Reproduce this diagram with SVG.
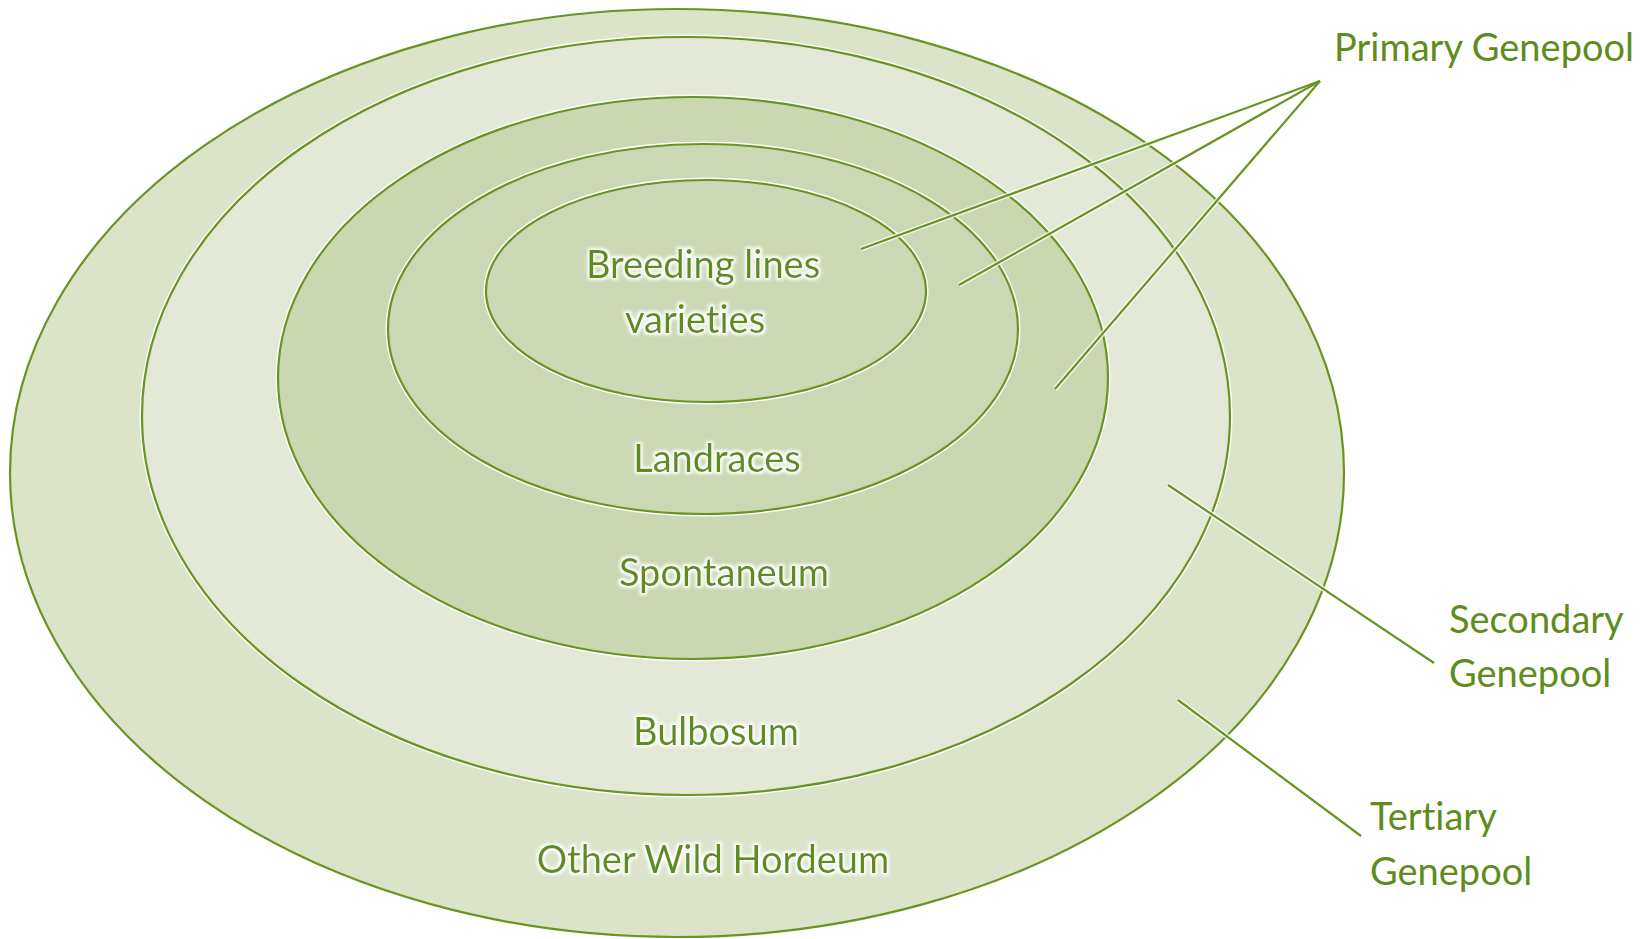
<svg xmlns="http://www.w3.org/2000/svg" width="1646" height="939" viewBox="0 0 1646 939">
<defs>
<style>
.halo{fill:none;stroke:#ffffff;stroke-width:5;}
.ring{stroke:#6a9421;stroke-width:2.2;}
.lbl{font-family:Lato,"Open Sans","Liberation Sans",sans-serif;font-size:38px;fill:#5f8c1c;font-variant-ligatures:none;font-feature-settings:"liga" 0;}
.in{text-anchor:middle;filter:url(#glow);}
.conn{fill:none;stroke:#6a9421;stroke-width:2.2;}
</style>
<filter id="glow" x="-20%" y="-40%" width="140%" height="180%">
<feMorphology in="SourceAlpha" operator="dilate" radius="2" result="d"/>
<feGaussianBlur in="d" stdDeviation="1.5" result="b"/>
<feFlood flood-color="#ffffff"/>
<feComposite in2="b" operator="in" result="w"/>
<feMerge><feMergeNode in="w"/><feMergeNode in="SourceGraphic"/></feMerge>
</filter>
</defs>
<rect width="1646" height="939" fill="#ffffff"/>
<g id="tertiary">
<ellipse class="halo" cx="677" cy="473" rx="667" ry="464"/>
<ellipse class="ring" fill="#dbe3c9" cx="677" cy="473" rx="667" ry="464"/>
</g>
<g id="secondary">
<ellipse class="halo" cx="686" cy="416" rx="544" ry="379"/>
<ellipse class="ring" fill="#e3e9d6" cx="686" cy="416" rx="544" ry="379"/>
</g>
<g id="spontaneum">
<ellipse class="halo" cx="693" cy="378" rx="415" ry="281"/>
<ellipse class="ring" fill="#cbd7b1" cx="693" cy="378" rx="415" ry="281"/>
</g>
<g id="landraces">
<ellipse class="halo" cx="703" cy="329" rx="315" ry="185"/>
<ellipse class="ring" fill="#ccd8b3" cx="703" cy="329" rx="315" ry="185"/>
</g>
<g id="breeding">
<ellipse class="halo" cx="706" cy="291" rx="220" ry="111"/>
<ellipse class="ring" fill="#cdd9b4" cx="706" cy="291" rx="220" ry="111"/>
</g>
<g id="connectors">
<g stroke="#ffffff" stroke-width="5" fill="none" opacity="0.8">
<line x1="1320" y1="81" x2="861" y2="249"/>
<line x1="1320" y1="81" x2="959" y2="285"/>
<line x1="1320" y1="81" x2="1055" y2="389"/>
<line x1="1168" y1="485" x2="1434" y2="663"/>
<line x1="1178" y1="700" x2="1361" y2="836"/>
</g>
<line class="conn" x1="1320" y1="81" x2="861" y2="249"/>
<line class="conn" x1="1320" y1="81" x2="959" y2="285"/>
<line class="conn" x1="1320" y1="81" x2="1055" y2="389"/>
<line class="conn" x1="1168" y1="485" x2="1434" y2="663"/>
<line class="conn" x1="1178" y1="700" x2="1361" y2="836"/>
</g>
<g id="labels-inner">
<text class="lbl in" x="703" y="278">Breeding lines</text>
<text class="lbl in" x="695" y="333">varieties</text>
<text class="lbl in" x="717" y="472">Landraces</text>
<text class="lbl in" x="724" y="586">Spontaneum</text>
<text class="lbl in" x="716" y="745">Bulbosum</text>
<text class="lbl in" x="713" y="873">Other Wild Hordeum</text>
</g>
<g id="labels-outer">
<text class="lbl" x="1334" y="61">Primary Genepool</text>
<text class="lbl" x="1449" y="633">Secondary</text>
<text class="lbl" x="1449" y="687">Genepool</text>
<text class="lbl" x="1370" y="830">Tertiary</text>
<text class="lbl" x="1370" y="885">Genepool</text>
</g>
</svg>
